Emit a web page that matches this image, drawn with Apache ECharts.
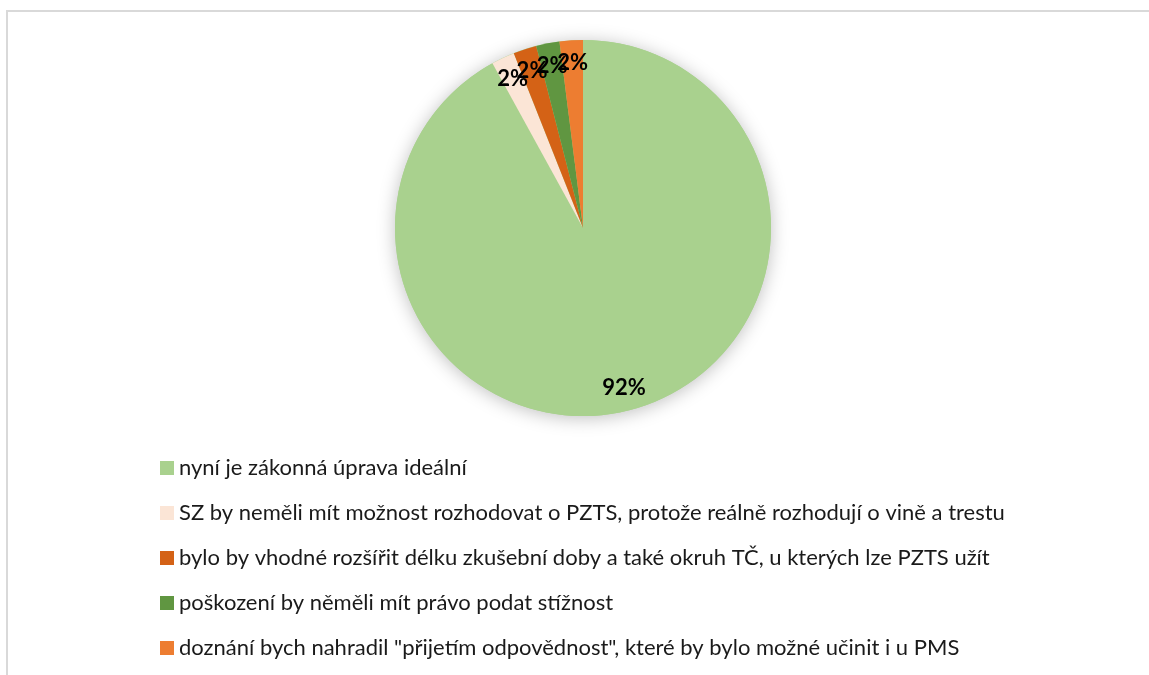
<!DOCTYPE html>
<html>
<head>
<meta charset="utf-8">
<script src="https://cdn.jsdelivr.net/npm/echarts@6/dist/echarts.min.js"></script>
<style>
  html, body { margin: 0; padding: 0; background: #ffffff; }
  #chart { width: 1149px; height: 675px; }
</style>
</head>
<body>
<div id="chart"></div>
<script>
// Answer categories (legend order = slice order, clockwise from 12 o'clock)
const categories = [
  'nyní je zákonná úprava ideální',
  'SZ by neměli mít možnost rozhodovat o PZTS, protože reálně rozhodují o vině a trestu',
  'bylo by vhodné rozšířit délku zkušební doby a také okruh TČ, u kterých lze PZTS užít',
  'poškození by něměli mít právo podat stížnost',
  'doznání bych nahradil "přijetím odpovědnost", které by bylo možné učinit i u PMS'
];
// Share of respondents, percent
const shares = [92, 2, 2, 2, 2];
const colors = ['#A9D18E', '#FBE5D6', '#D46216', '#609641', '#ED7D31'];

const pieData = categories.map((name, i) => ({
  name: name,
  value: shares[i],
  itemStyle: { color: colors[i] }
}));

const center = [583, 228];
const outerR = 188;
const fontFamily = 'Lato, "Liberation Sans", sans-serif';

const chart = echarts.init(document.getElementById('chart'), null, { renderer: 'canvas' });

chart.setOption({
  animation: false,
  backgroundColor: '#ffffff',
  graphic: [{
    type: 'rect',
    shape: { x: 7, y: 11, width: 1400, height: 900 },
    style: { fill: 'none', stroke: '#D9D9D9', lineWidth: 2 },
    silent: true
  }],
  legend: {
    data: categories,
    orient: 'vertical',
    left: 160,
    top: 455,
    padding: 0,
    icon: 'rect',
    itemWidth: 14,
    itemHeight: 14,
    itemGap: 19,
    selectedMode: false,
    textStyle: {
      fontFamily: fontFamily,
      fontSize: 22,
      lineHeight: 26,
      color: '#1a1a1a'
    }
  },
  series: [
    // soft drop shadow under the pie
    {
      type: 'pie',
      silent: true,
      center: center,
      radius: [0, outerR],
      label: { show: false },
      labelLine: { show: false },
      itemStyle: {
        color: '#A9D18E',
        shadowBlur: 18,
        shadowColor: 'rgba(0,0,0,0.25)',
        shadowOffsetY: 2
      },
      data: [{ value: 1 }],
      z: 1
    },
    // the slices
    {
      type: 'pie',
      silent: true,
      center: center,
      radius: [0, outerR],
      startAngle: 90,
      clockwise: true,
      label: { show: false },
      labelLine: { show: false },
      emphasis: { disabled: true },
      data: pieData,
      z: 2
    },
    // percentage labels placed near the rim
    {
      type: 'pie',
      silent: true,
      center: center,
      radius: [136, outerR],
      startAngle: 90,
      clockwise: true,
      avoidLabelOverlap: false,
      itemStyle: { color: 'rgba(0,0,0,0)' },
      emphasis: { disabled: true },
      labelLine: { show: false },
      labelLayout: { hideOverlap: false },
      label: {
        show: true,
        position: 'inside',
        formatter: p => p.value + '%',
        fontFamily: fontFamily,
        fontWeight: 'bold',
        fontSize: 22,
        color: '#000000'
      },
      data: categories.map((name, i) => ({ name: name, value: shares[i] })),
      z: 3
    }
  ]
});
</script>
</body>
</html>
